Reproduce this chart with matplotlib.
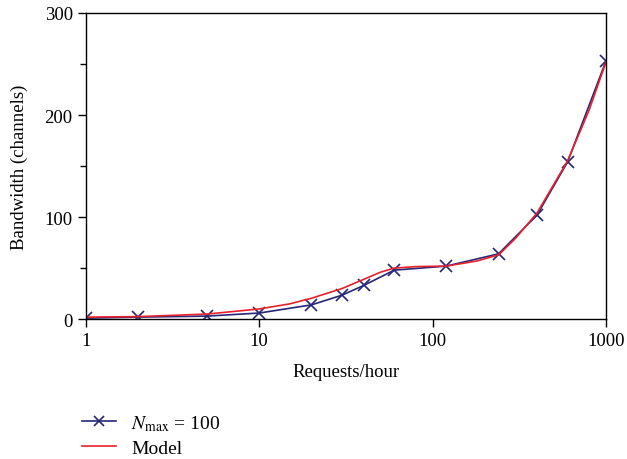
import matplotlib.pyplot as plt
from matplotlib.lines import Line2D

# requests/hour and bandwidth
requests = [1, 2, 5, 10, 20, 30, 40, 60, 120, 240, 400, 600, 1000]
bw_nmax100 = [1, 2, 3, 6, 14, 23.5, 33, 48, 52, 64, 102, 154, 253]

model_x = [1, 2, 5, 10, 15, 20, 30, 40, 50, 60, 80, 120, 180, 240, 300, 400, 600, 800, 1000]
model_y = [2, 2.5, 5, 10, 15, 20.5, 30, 39, 46, 50, 51.5, 52, 57, 63, 79, 104, 155, 205, 252]

blue = '#262678'
red = '#e8202a'

plt.rcParams['font.family'] = ['Liberation Serif', 'DejaVu Serif']
plt.rcParams['mathtext.fontset'] = 'stix'

fig = plt.figure(figsize=(6.27, 4.6), dpi=100)
ax = fig.add_axes([0.137, 0.304, 0.8295, 0.6656])

ax.plot(requests, bw_nmax100, color=blue, lw=1.2, marker='x',
        markersize=9, markeredgewidth=1.2)
ax.plot(model_x, model_y, color=red, lw=1.2)

ax.set_xscale('log')
ax.set_xlim(1, 1000)
ax.set_ylim(0, 300)
ax.set_xticks([1, 10, 100, 1000])
ax.set_xticklabels(['1', '10', '100', '1000'])
ax.set_xticks([], minor=True)
ax.set_yticks([0, 100, 200, 300])
ax.set_yticks([50, 150, 250], minor=True)
ax.tick_params(labelsize=13.5, length=6, width=1, direction='out', top=False, right=False)
ax.tick_params(axis='y', which='minor', length=4, width=1)
ax.set_xlabel('Requests/hour', fontsize=13.5, labelpad=10)
ax.set_ylabel('Bandwidth (channels)', fontsize=13.5, labelpad=12)
for s in ax.spines.values():
    s.set_linewidth(1)

h1 = Line2D([], [], color=blue, lw=1.2, marker='x', markersize=7, markeredgewidth=1.2)
h2 = Line2D([], [], color=red, lw=1.2)
fig.legend(handles=[h1, h2], labels=[r'$N_{\mathrm{max}}$ = 100', 'Model'],
           loc='upper left', bbox_to_anchor=(0.118, 0.117),
           frameon=False, fontsize=14, handlelength=1.75, handletextpad=0.8,
           labelspacing=0.35, borderaxespad=0)

fig.savefig('out.png', dpi=100)
